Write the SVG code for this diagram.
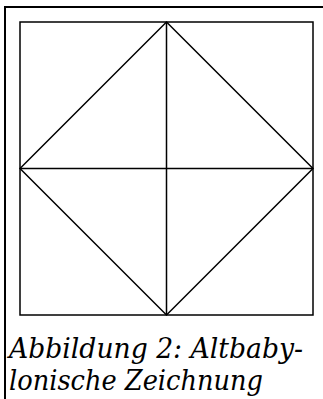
<svg xmlns="http://www.w3.org/2000/svg" width="323" height="399" viewBox="0 0 323 399">
<style>
.frame{fill:none;stroke:#000;stroke-width:2}
.ln{fill:none;stroke:#000;stroke-width:1.5}
.cap{font-family:"DejaVu Serif","Liberation Serif",serif;font-style:italic;font-size:28px;fill:#000}
</style>
<rect width="323" height="399" fill="#fff"/>
<rect class="frame" x="5" y="7" width="330" height="400"/>
<g id="square">
<rect class="ln" x="20" y="22" width="293" height="293"/>
</g>
<g id="connectors">
<line class="ln" x1="166.5" y1="22" x2="166.5" y2="315"/>
<line class="ln" x1="20" y1="168.5" x2="313" y2="168.5"/>
<polygon class="ln" points="166.5,22 313,168.5 166.5,315 20,168.5"/>
</g>
<g id="caption">
<text class="cap" x="9" y="358" textLength="294" lengthAdjust="spacingAndGlyphs">Abbildung 2: Altbaby-</text>
<text class="cap" x="9" y="390" textLength="254" lengthAdjust="spacingAndGlyphs">lonische Zeichnung</text>
</g>
</svg>
